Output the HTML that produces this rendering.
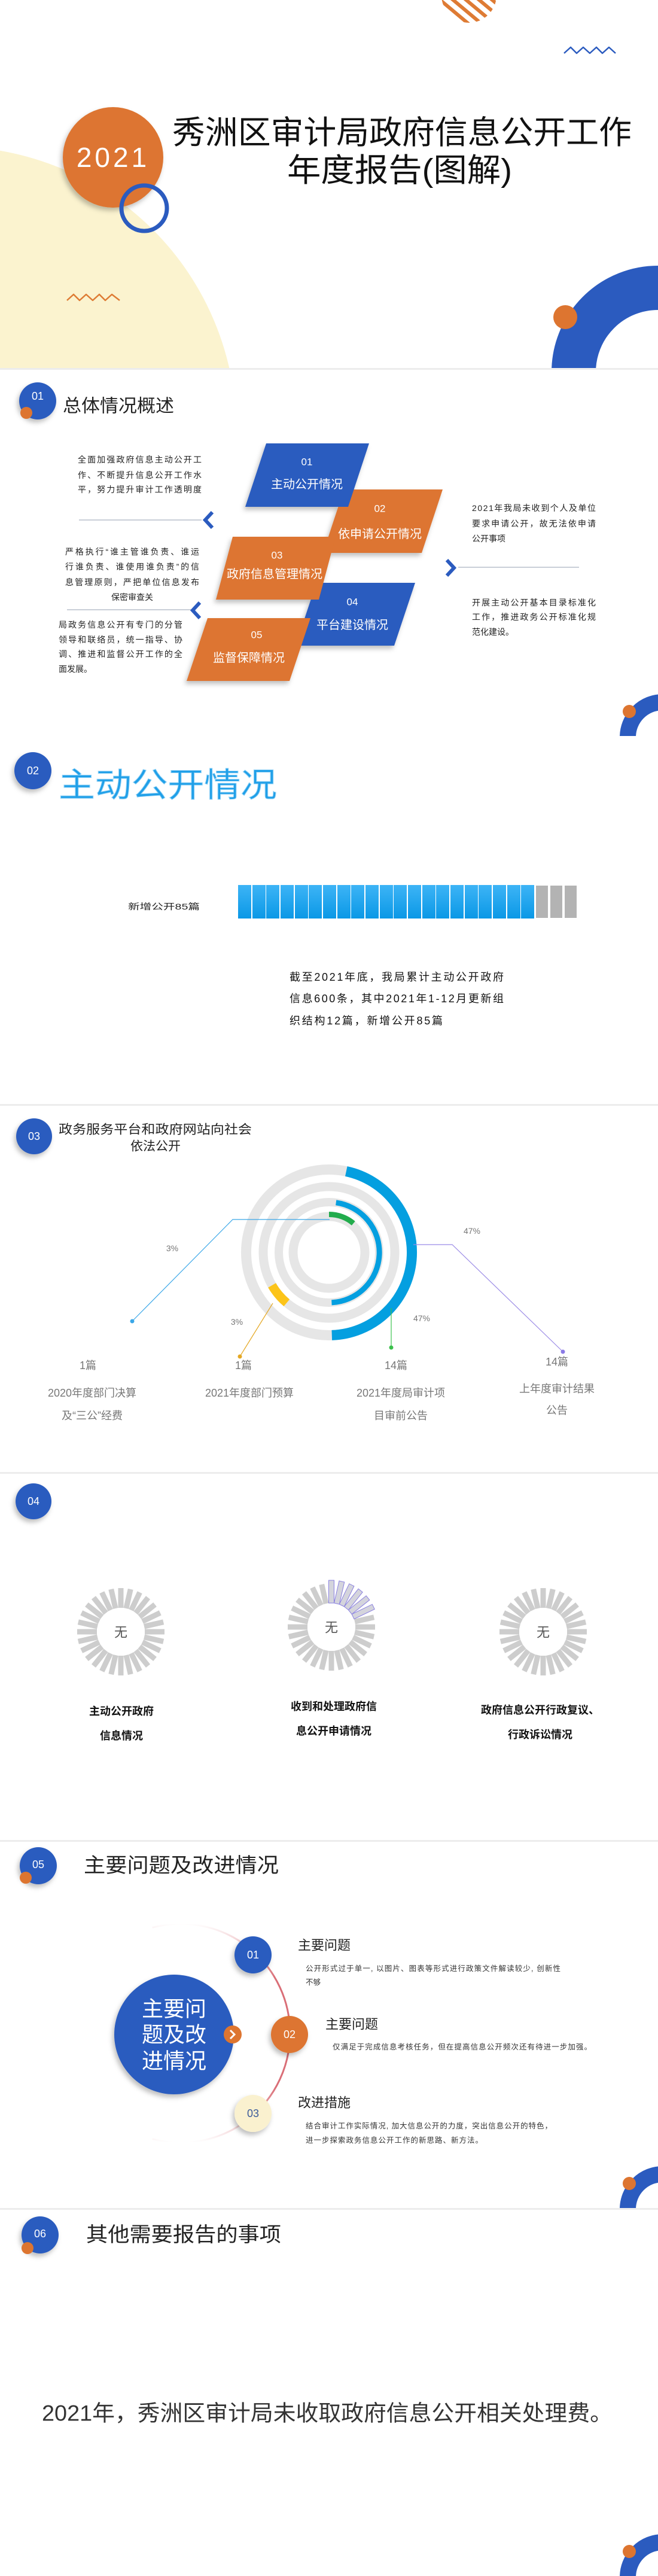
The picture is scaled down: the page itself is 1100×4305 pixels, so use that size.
<!DOCTYPE html>
<html><head><meta charset="utf-8">
<style>
html,body{margin:0;padding:0;background:#fff;}
body{width:1100px;height:4305px;overflow:hidden;}
.s{position:relative;width:1100px;height:615px;overflow:hidden;background:#fff;}
svg{display:block;font-family:"Liberation Sans","Noto Sans CJK SC",sans-serif;}
</style></head><body>

<!-- SLIDE 1 -->
<div class="s"><svg width="1100" height="615" viewBox="0 0 1100 615">
<defs>
<pattern id="str" width="14" height="14" patternUnits="userSpaceOnUse" patternTransform="rotate(40)">
<rect width="14" height="6" fill="#de7b34"/></pattern>
<filter id="sh" x="-30%" y="-30%" width="160%" height="160%"><feDropShadow dx="-3" dy="5" stdDeviation="4" flood-color="#000" flood-opacity="0.25"/></filter>
</defs>
<circle cx="-80" cy="720" r="475" fill="#fbf3cf"/>
<circle cx="784" cy="-8" r="46" fill="url(#str)"/>
<polyline points="943,89 954,79 964,89 975,79 986,89 997,79 1007,89 1018,79 1029,89" fill="none" stroke="#2b5bbf" stroke-width="2.5" stroke-linejoin="round"/>
<polyline points="112,502 123,492 133,502 144,492 155,502 166,492 176,502 187,492 200,502" fill="none" stroke="#de7b34" stroke-width="2.5" stroke-linejoin="round"/>
<circle cx="189" cy="263" r="84" fill="#dd7530" filter="url(#sh)"/>
<text x="189" y="263" dominant-baseline="central" text-anchor="middle" fill="#fff" font-size="46" letter-spacing="5">2021</text>
<circle cx="241" cy="348" r="38" fill="none" stroke="#2b5bbf" stroke-width="7"/>
<text x="288" y="222" dominant-baseline="central" font-size="54" fill="#111" textLength="768" lengthAdjust="spacingAndGlyphs">秀洲区审计局政府信息公开工作</text>
<text x="480" y="285" dominant-baseline="central" font-size="54" fill="#111" textLength="376" lengthAdjust="spacingAndGlyphs">年度报告(图解)</text>
<circle cx="1100" cy="622" r="141" fill="none" stroke="#2b5bbf" stroke-width="74"/>
<circle cx="945" cy="530" r="20" fill="#dd7530"/>
</svg></div>

<!-- SLIDE 2 -->
<div class="s"><svg width="1100" height="615" viewBox="0 0 1100 615">
<defs><filter id="sh2" x="-30%" y="-30%" width="160%" height="160%"><feDropShadow dx="-3" dy="5" stdDeviation="4" flood-color="#000" flood-opacity="0.25"/></filter></defs>
<rect width="1100" height="3" fill="#ececec"/>
<circle cx="63" cy="55" r="31" fill="#2b5bbf" filter="url(#sh2)"/>
<circle cx="44" cy="75" r="10" fill="#dd7530"/>
<text x="63" y="47" text-anchor="middle" dominant-baseline="central" fill="#fff" font-size="18">01</text>
<text x="105" y="64" dominant-baseline="central" font-size="30" fill="#222" textLength="186" lengthAdjust="spacingAndGlyphs">总体情况概述</text>

<g filter="url(#sh2)">
<polygon points="575,203 740,203 705,309 540,309" fill="#dd7530"/>
<polygon points="529,359 694,359 659,464 494,464" fill="#2b5bbf"/>
<polygon points="445,126 617,126 582,232 410,232" fill="#2b5bbf"/>
<polygon points="389,282 561,282 533,387 361,387" fill="#dd7530"/>
<polygon points="347,418 519,418 484,523 312,523" fill="#dd7530"/>
</g>
<g fill="#fff" text-anchor="middle" dominant-baseline="central">
<text x="513" y="157" font-size="17">01</text><text x="513" y="195" font-size="20">主动公开情况</text>
<text x="635" y="235" font-size="17">02</text><text x="635" y="278" font-size="20">依申请公开情况</text>
<text x="463" y="313" font-size="17">03</text><text x="459" y="345" font-size="20">政府信息管理情况</text>
<text x="589" y="391" font-size="17">04</text><text x="589" y="430" font-size="20">平台建设情况</text>
<text x="429" y="446" font-size="17">05</text><text x="416" y="485" font-size="20">监督保障情况</text>
</g>
<g font-size="14" fill="#222" dominant-baseline="central" lengthAdjust="spacingAndGlyphs">
<text x="130" y="153" textLength="207">全面加强政府信息主动公开工</text>
<text x="130" y="179" textLength="207">作、不断提升信息公开工作水</text>
<text x="130" y="203" textLength="207">平，努力提升审计工作透明度</text>
<text x="109" y="307" textLength="224">严格执行“谁主管谁负责、谁运</text>
<text x="109" y="332" textLength="224">行谁负责、谁使用谁负责”的信</text>
<text x="109" y="358" textLength="224">息管理原则，严把单位信息发布</text>
<text x="221" y="383" text-anchor="middle">保密审查关</text>
<text x="98" y="429" textLength="207">局政务信息公开有专门的分管</text>
<text x="98" y="454" textLength="207">领导和联络员，统一指导、协</text>
<text x="98" y="478" textLength="207">调、推进和监督公开工作的全</text>
<text x="98" y="503">面发展。</text>
<text x="789" y="234" textLength="207">2021年我局未收到个人及单位</text>
<text x="789" y="260" textLength="207">要求申请公开，故无法依申请</text>
<text x="789" y="285">公开事项</text>
<text x="789" y="392" textLength="207">开展主动公开基本目录标准化</text>
<text x="789" y="416" textLength="207">工作，推进政务公开标准化规</text>
<text x="789" y="441">范化建设。</text>
</g>
<line x1="132" y1="254" x2="337" y2="254" stroke="#c9cfd8" stroke-width="2"/>
<polyline points="355,241 343,254 355,267" fill="none" stroke="#2b5bbf" stroke-width="6"/>
<line x1="112" y1="404" x2="319" y2="404" stroke="#c9cfd8" stroke-width="2"/>
<polyline points="334,392 322,405 334,418" fill="none" stroke="#2b5bbf" stroke-width="6"/>
<line x1="766" y1="333" x2="968" y2="333" stroke="#c9cfd8" stroke-width="2"/>
<polyline points="747,321 759,334 747,347" fill="none" stroke="#2b5bbf" stroke-width="6"/>
<circle cx="1108" cy="617" r="58.5" fill="none" stroke="#2b5bbf" stroke-width="27"/>
<circle cx="1052" cy="574" r="11" fill="#dd7530"/>
</svg></div>

<!-- SLIDE 3 -->
<div class="s"><svg width="1100" height="615" viewBox="0 0 1100 615">
<defs>
<filter id="sh3" x="-30%" y="-30%" width="160%" height="160%"><feDropShadow dx="-3" dy="5" stdDeviation="4" flood-color="#000" flood-opacity="0.25"/></filter>
<linearGradient id="bg" x1="0" y1="0" x2="0" y2="1"><stop offset="0" stop-color="#3db4f6"/><stop offset="1" stop-color="#0a98e6"/></linearGradient>
</defs>
<circle cx="55" cy="58" r="31" fill="#2b5bbf" filter="url(#sh3)"/>
<text x="55" y="58" text-anchor="middle" dominant-baseline="central" fill="#fff" font-size="18">02</text>
<text x="98" y="82" dominant-baseline="central" font-size="56" fill="#1f9fe8" stroke="#8fd0f5" stroke-width="1" textLength="365" lengthAdjust="spacingAndGlyphs">主动公开情况</text>
<text x="214" y="285" dominant-baseline="central" font-size="14" fill="#222" textLength="120" lengthAdjust="spacingAndGlyphs">新增公开85篇</text>
<g>
<rect x="398" y="249" width="22" height="56" fill="url(#bg)"/><rect x="422" y="249" width="22" height="56" fill="url(#bg)"/>
<rect x="445" y="249" width="22" height="56" fill="url(#bg)"/><rect x="469" y="249" width="22" height="56" fill="url(#bg)"/>
<rect x="493" y="249" width="22" height="56" fill="url(#bg)"/><rect x="516" y="249" width="22" height="56" fill="url(#bg)"/>
<rect x="540" y="249" width="22" height="56" fill="url(#bg)"/><rect x="564" y="249" width="22" height="56" fill="url(#bg)"/>
<rect x="587" y="249" width="22" height="56" fill="url(#bg)"/><rect x="611" y="249" width="22" height="56" fill="url(#bg)"/>
<rect x="635" y="249" width="22" height="56" fill="url(#bg)"/><rect x="658" y="249" width="22" height="56" fill="url(#bg)"/>
<rect x="682" y="249" width="22" height="56" fill="url(#bg)"/><rect x="706" y="249" width="22" height="56" fill="url(#bg)"/>
<rect x="729" y="249" width="22" height="56" fill="url(#bg)"/><rect x="753" y="249" width="22" height="56" fill="url(#bg)"/>
<rect x="777" y="249" width="22" height="56" fill="url(#bg)"/><rect x="800" y="249" width="22" height="56" fill="url(#bg)"/>
<rect x="824" y="249" width="22" height="56" fill="url(#bg)"/><rect x="848" y="249" width="22" height="56" fill="url(#bg)"/>
<rect x="871" y="249" width="22" height="56" fill="url(#bg)"/>
<rect x="896" y="250" width="20" height="54" fill="#b3b3b3"/><rect x="920" y="250" width="20" height="54" fill="#b3b3b3"/><rect x="944" y="250" width="20" height="54" fill="#b3b3b3"/>
</g>
<g font-size="18" fill="#111" dominant-baseline="central" lengthAdjust="spacingAndGlyphs">
<text x="484" y="403" textLength="358">截至2021年底，我局累计主动公开政府</text>
<text x="484" y="439" textLength="358">信息600条，其中2021年1-12月更新组</text>
<text x="484" y="476" textLength="256">织结构12篇，新增公开85篇</text>
</g>
</svg></div>

<!-- SLIDE 4 -->
<div class="s"><svg width="1100" height="615" viewBox="0 0 1100 615">
<defs><filter id="sh4" x="-30%" y="-30%" width="160%" height="160%"><feDropShadow dx="-3" dy="5" stdDeviation="4" flood-color="#000" flood-opacity="0.25"/></filter></defs>
<rect width="1100" height="3" fill="#ececec"/>
<circle cx="57" cy="54" r="30" fill="#2b5bbf" filter="url(#sh4)"/>
<text x="57" y="54" text-anchor="middle" dominant-baseline="central" fill="#fff" font-size="18">03</text>
<text x="98" y="43" dominant-baseline="central" font-size="21" fill="#222" textLength="323" lengthAdjust="spacingAndGlyphs">政务服务平台和政府网站向社会</text>
<text x="260" y="71" text-anchor="middle" dominant-baseline="central" font-size="21" fill="#222">依法公开</text>
<g fill="none">
<circle cx="550" cy="248" r="138.5" stroke="#e6e6e6" stroke-width="17"/>
<circle cx="550" cy="248" r="110" stroke="#e6e6e6" stroke-width="15"/>
<circle cx="550" cy="248" r="84" stroke="#e6e6e6" stroke-width="14"/>
<circle cx="550" cy="248" r="60" stroke="#e6e6e6" stroke-width="15"/>
<path d="M578.8,112.5 A138.5,138.5 0 0 1 554.8,386.4" stroke="#049fe0" stroke-width="17"/>
<path d="M454.7,303 A110,110 0 0 0 479.3,332.3" stroke="#fcc419" stroke-width="15"/>
<path d="M561.7,164.8 A84,84 0 0 1 554.4,331.9" stroke="#049fe0" stroke-width="9"/>
<path d="M550,184.5 A63.5,63.5 0 0 1 590.8,199.4" stroke="#22ac4c" stroke-width="9"/>
<polyline points="551,193 389,193 221,363" stroke="#3aa7e8" stroke-width="1.2"/>
<line x1="456" y1="333" x2="401" y2="422" stroke="#e5a824" stroke-width="1.2"/>
<line x1="654" y1="341" x2="654" y2="407" stroke="#3cc04c" stroke-width="1.2"/>
<polyline points="691,235 756,235 941,414" stroke="#9b8be6" stroke-width="1.2"/>
</g>
<circle cx="221" cy="363" r="3.5" fill="#3aa7e8"/>
<circle cx="401" cy="422" r="3.5" fill="#e5a824"/>
<circle cx="654" cy="407" r="3.5" fill="#3cc04c"/>
<circle cx="941" cy="414" r="3.5" fill="#8b7be6"/>
<g font-size="14" fill="#777" text-anchor="middle" dominant-baseline="central">
<text x="288" y="241">3%</text><text x="396" y="364">3%</text><text x="705" y="358">47%</text><text x="789" y="212">47%</text>
</g>
<g font-size="18" fill="#777" text-anchor="middle" dominant-baseline="central">
<text x="147" y="437">1篇</text><text x="407" y="437">1篇</text><text x="662" y="437">14篇</text><text x="931" y="431">14篇</text>
<text x="154" y="483">2020年度部门决算</text><text x="154" y="521">及“三公”经费</text>
<text x="417" y="483">2021年度部门预算</text>
<text x="670" y="483">2021年度局审计项</text><text x="670" y="521">目审前公告</text>
<text x="931" y="476">上年度审计结果</text><text x="931" y="512">公告</text>
</g>
</svg></div>

<!-- SLIDE 5 -->
<div class="s"><svg width="1100" height="615" viewBox="0 0 1100 615">
<defs>
<filter id="sh5" x="-30%" y="-30%" width="160%" height="160%"><feDropShadow dx="-3" dy="5" stdDeviation="4" flood-color="#000" flood-opacity="0.25"/></filter>
<g id="sb" stroke="#cdcdcd" stroke-width="9">
<line x1="0" y1="-40" x2="0" y2="-73"/><line x1="0" y1="-40" x2="0" y2="-73" transform="rotate(12.86)"/>
<line x1="0" y1="-40" x2="0" y2="-73" transform="rotate(25.71)"/><line x1="0" y1="-40" x2="0" y2="-73" transform="rotate(38.57)"/>
<line x1="0" y1="-40" x2="0" y2="-73" transform="rotate(51.43)"/><line x1="0" y1="-40" x2="0" y2="-73" transform="rotate(64.29)"/>
<line x1="0" y1="-40" x2="0" y2="-73" transform="rotate(77.14)"/><line x1="0" y1="-40" x2="0" y2="-73" transform="rotate(90)"/>
<line x1="0" y1="-40" x2="0" y2="-73" transform="rotate(102.86)"/><line x1="0" y1="-40" x2="0" y2="-73" transform="rotate(115.71)"/>
<line x1="0" y1="-40" x2="0" y2="-73" transform="rotate(128.57)"/><line x1="0" y1="-40" x2="0" y2="-73" transform="rotate(141.43)"/>
<line x1="0" y1="-40" x2="0" y2="-73" transform="rotate(154.29)"/><line x1="0" y1="-40" x2="0" y2="-73" transform="rotate(167.14)"/>
<line x1="0" y1="-40" x2="0" y2="-73" transform="rotate(180)"/><line x1="0" y1="-40" x2="0" y2="-73" transform="rotate(192.86)"/>
<line x1="0" y1="-40" x2="0" y2="-73" transform="rotate(205.71)"/><line x1="0" y1="-40" x2="0" y2="-73" transform="rotate(218.57)"/>
<line x1="0" y1="-40" x2="0" y2="-73" transform="rotate(231.43)"/><line x1="0" y1="-40" x2="0" y2="-73" transform="rotate(244.29)"/>
<line x1="0" y1="-40" x2="0" y2="-73" transform="rotate(257.14)"/><line x1="0" y1="-40" x2="0" y2="-73" transform="rotate(270)"/>
<line x1="0" y1="-40" x2="0" y2="-73" transform="rotate(282.86)"/><line x1="0" y1="-40" x2="0" y2="-73" transform="rotate(295.71)"/>
<line x1="0" y1="-40" x2="0" y2="-73" transform="rotate(308.57)"/><line x1="0" y1="-40" x2="0" y2="-73" transform="rotate(321.43)"/>
<line x1="0" y1="-40" x2="0" y2="-73" transform="rotate(334.29)"/><line x1="0" y1="-40" x2="0" y2="-73" transform="rotate(347.14)"/>
</g>
</defs>
<rect width="1100" height="3" fill="#ececec"/>
<circle cx="56" cy="49" r="30" fill="#2b5bbf" filter="url(#sh5)"/>
<text x="56" y="49" text-anchor="middle" dominant-baseline="central" fill="#fff" font-size="18">04</text>
<use href="#sb" transform="translate(202,267)"/>
<use href="#sb" transform="translate(554,259)"/>
<use href="#sb" transform="translate(908,267)"/>
<g transform="translate(554,259)" fill="#d4d4dc" stroke="#8a80e0" stroke-width="1">
<rect x="-4.5" y="-78" width="9" height="38"/>
<rect x="-4.5" y="-78" width="9" height="38" transform="rotate(12.86)"/>
<rect x="-4.5" y="-78" width="9" height="38" transform="rotate(25.71)"/>
<rect x="-4.5" y="-78" width="9" height="38" transform="rotate(38.57)"/>
<rect x="-4.5" y="-78" width="9" height="38" transform="rotate(51.43)"/>
<rect x="-4.5" y="-78" width="9" height="38" transform="rotate(64.29)"/>
</g>
<g font-size="22" fill="#555" text-anchor="middle" dominant-baseline="central">
<text x="202" y="268">无</text><text x="554" y="260">无</text><text x="908" y="268">无</text>
</g>
<g font-size="18" font-weight="bold" fill="#111" text-anchor="middle" dominant-baseline="central">
<text x="203" y="400">主动公开政府</text><text x="203" y="441">信息情况</text>
<text x="558" y="392">收到和处理政府信</text><text x="558" y="433">息公开申请情况</text>
<text x="903" y="398">政府信息公开行政复议、</text><text x="903" y="439">行政诉讼情况</text>
</g>
</svg></div>

<!-- SLIDE 6 -->
<div class="s"><svg width="1100" height="615" viewBox="0 0 1100 615">
<defs>
<filter id="sh6" x="-30%" y="-30%" width="160%" height="160%"><feDropShadow dx="-3" dy="5" stdDeviation="4" flood-color="#000" flood-opacity="0.25"/></filter>
<linearGradient id="ag" gradientUnits="userSpaceOnUse" x1="0" y1="140" x2="0" y2="505">
<stop offset="0" stop-color="#d04a55" stop-opacity="0"/><stop offset="0.25" stop-color="#d04a55" stop-opacity="0.8"/>
<stop offset="0.75" stop-color="#d04a55" stop-opacity="0.8"/><stop offset="1" stop-color="#d04a55" stop-opacity="0"/></linearGradient>
</defs>
<rect width="1100" height="3" fill="#ececec"/>
<circle cx="64" cy="43" r="31" fill="#2b5bbf" filter="url(#sh6)"/>
<circle cx="43" cy="63" r="10" fill="#dd7530"/>
<text x="64" y="41" text-anchor="middle" dominant-baseline="central" fill="#fff" font-size="18">05</text>
<text x="140" y="43" dominant-baseline="central" font-size="34" fill="#222" textLength="326" lengthAdjust="spacingAndGlyphs">主要问题及改进情况</text>
<path d="M254.6,146.2 A183,183 0 1 1 254.6,499.8" fill="none" stroke="url(#ag)" stroke-width="3"/>
<circle cx="291" cy="325" r="100" fill="#2b5bbf" filter="url(#sh6)"/>
<g font-size="36" fill="#fff" text-anchor="middle" dominant-baseline="central">
<text x="291" y="282">主要问</text><text x="291" y="325">题及改</text><text x="291" y="369">进情况</text>
</g>
<circle cx="389" cy="325" r="15" fill="#dd7530"/>
<polyline points="385,318 392,325 385,332" fill="none" stroke="#fff" stroke-width="3"/>
<circle cx="423" cy="192" r="31" fill="#2b5bbf" filter="url(#sh6)"/>
<circle cx="484" cy="325" r="31" fill="#dd7530" filter="url(#sh6)"/>
<circle cx="423" cy="457" r="31" fill="#faf1cf" filter="url(#sh6)"/>
<g font-size="18" text-anchor="middle" dominant-baseline="central">
<text x="423" y="192" fill="#fff">01</text><text x="484" y="325" fill="#fff">02</text><text x="423" y="457" fill="#3a5a9a">03</text>
</g>
<g font-size="22" fill="#222" dominant-baseline="central">
<text x="498" y="176">主要问题</text><text x="544" y="308">主要问题</text><text x="498" y="439">改进措施</text>
</g>
<g font-size="12.5" fill="#333" dominant-baseline="central" lengthAdjust="spacingAndGlyphs">
<text x="511" y="215" textLength="426">公开形式过于单一, 以图片、图表等形式进行政策文件解读较少, 创新性</text>
<text x="511" y="238">不够</text>
<text x="556" y="346" textLength="433">仅满足于完成信息考核任务，但在提高信息公开频次还有待进一步加强。</text>
<text x="511" y="478" textLength="412">结合审计工作实际情况, 加大信息公开的力度，突出信息公开的特色，</text>
<text x="511" y="502" textLength="296">进一步探索政务信息公开工作的新思路、新方法。</text>
</g>
<circle cx="1108" cy="617" r="58.5" fill="none" stroke="#2b5bbf" stroke-width="27"/>
<circle cx="1052" cy="574" r="11" fill="#dd7530"/>
</svg></div>

<!-- SLIDE 7 -->
<div class="s"><svg width="1100" height="615" viewBox="0 0 1100 615">
<defs><filter id="sh7" x="-30%" y="-30%" width="160%" height="160%"><feDropShadow dx="-3" dy="5" stdDeviation="4" flood-color="#000" flood-opacity="0.25"/></filter></defs>
<rect width="1100" height="3" fill="#ececec"/>
<circle cx="67" cy="45" r="31" fill="#2b5bbf" filter="url(#sh7)"/>
<circle cx="46" cy="67" r="10" fill="#dd7530"/>
<text x="67" y="43" text-anchor="middle" dominant-baseline="central" fill="#fff" font-size="18">06</text>
<text x="144" y="45" dominant-baseline="central" font-size="34" fill="#222" textLength="326" lengthAdjust="spacingAndGlyphs">其他需要报告的事项</text>
<text x="70" y="343" dominant-baseline="central" font-size="37" fill="#333" textLength="954" lengthAdjust="spacingAndGlyphs">2021年，秀洲区审计局未收取政府信息公开相关处理费。</text>
<circle cx="1108" cy="617" r="58.5" fill="none" stroke="#2b5bbf" stroke-width="27"/>
<circle cx="1052" cy="574" r="11" fill="#dd7530"/>
</svg></div>

</body></html>
